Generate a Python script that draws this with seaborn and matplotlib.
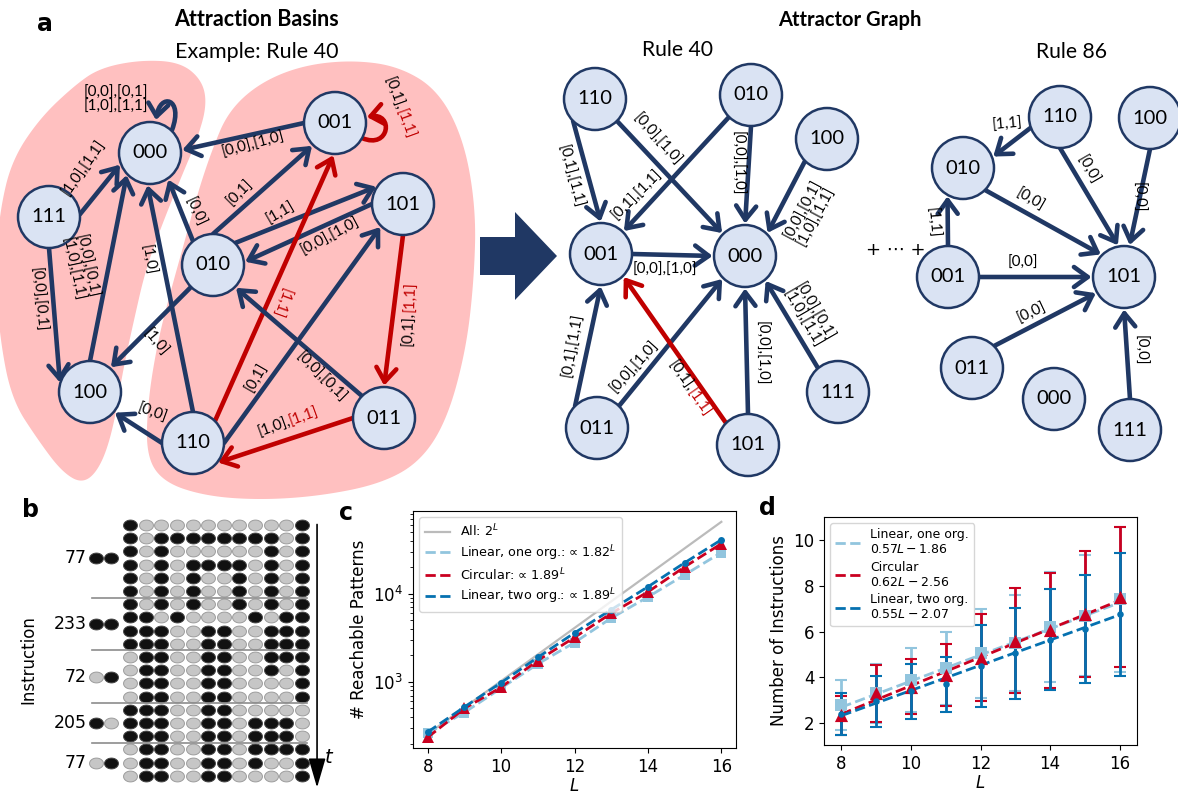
import numpy as np
import matplotlib
matplotlib.use("Agg")
import matplotlib.pyplot as plt
import seaborn as sns
from matplotlib.patches import Circle, FancyArrowPatch, Polygon
from matplotlib.path import Path

W, H = 1178, 796

# ---------------- data: panel c (reachable patterns) ----------------
L = [8, 9, 10, 11, 12, 13, 14, 15, 16]
all_patterns = [256, 512, 1024, 2048, 4096, 8192, 16384, 32768, 65536]
reach_lin_one = [260, 450, 850, 1600, 2800, 5300, 9200, 16400, 29400]
reach_circ = [235, 500, 870, 1750, 3200, 6000, 10500, 20200, 37000]
reach_lin_two = [270, 520, 980, 1900, 3600, 6600, 12000, 22500, 41000]
c_labels = ["All: $2^L$", "Linear, one org.: \u221d $1.82^L$",
            "Circular: \u221d $1.89^L$", "Linear, two org.: \u221d $1.89^L$"]

# ---------------- data: panel d (number of instructions) ----------------
mean_lin_one = [2.8, 3.3, 3.9, 4.4, 5.05, 5.5, 6.2, 6.7, 7.4]
std_lin_one = [1.1, 1.3, 1.4, 1.6, 1.95, 2.1, 2.4, 2.65, 3.15]
mean_circ = [2.35, 3.3, 3.6, 4.1, 4.85, 5.6, 6.05, 6.75, 7.5]
std_circ = [0.85, 1.25, 1.2, 1.35, 1.9, 2.3, 2.5, 2.75, 3.05]
mean_lin_two = [2.4, 2.95, 3.4, 3.7, 4.5, 5.05, 5.65, 6.1, 6.75]
std_lin_two = [0.9, 1.1, 1.2, 1.2, 1.8, 2.0, 2.2, 2.35, 2.7]
fit_slope = [0.57, 0.62, 0.55]
fit_icpt = [-1.86, -2.56, -2.07]
d_labels = ["Linear, one org.\n$0.57L-1.86$", "Circular\n$0.62L-2.56$",
            "Linear, two org.\n$0.55L-2.07$"]

# ---------------- data: panel b (cell states per time step) ----------------
b_rows = ["100000000001", "101111111101", "101000000101", "101011110101",
          "101010010101", "101010010101",
          "101010010101", "110100001011", "111001100111", "111001100111",
          "011001100111", "011001100101", "011001100001", "011001100001",
          "111001100000", "111001101110", "111001101110",
          "011001101111", "011001101001", "011001100001"]
b_rules = ["77", "233", "72", "205", "77"]
b_inputs = ["11", "11", "01", "10", "01"]
b_steps = [6, 4, 4, 3, 3]

# ---------------- data: panel a (graphs) ----------------
basin_edges = [  # src, dst, label parts (text, red?)
    ("111", "000", [("[1,0],[1,1]", 0)]),
    ("111", "100", [("[0,0],[0,1]", 0)]),
    ("100", "000", [("[0,0],[0,1]\n[1,0],[1,1]", 0)]),
    ("110", "000", [("[1,0]", 0)]),
    ("010", "000", [("[0,0]", 0)]),
    ("010", "001", [("[0,1]", 0)]),
    ("010", "101", [("[1,1]", 0)]),
    ("101", "010", [("[0,0],[1,0]", 0)]),
    ("001", "000", [("[0,0],[1,0]", 0)]),
    ("010", "100", [("[1,0]", 0)]),
    ("110", "100", [("[0,0]", 0)]),
    ("110", "001", [("[1,1]", 1)]),
    ("110", "101", [("[0,1]", 0)]),
    ("011", "010", [("[0,0],[0,1]", 0)]),
    ("101", "011", [("[0,1],", 0), ("[1,1]", 1)]),
    ("011", "110", [("[1,0],", 0), ("[1,1]", 1)]),
]
basin_loops = [("000", [("[0,0],[0,1]\n[1,0],[1,1]", 0)]),
               ("001", [("[0,1],", 0), ("[1,1]", 1)])]
r40_edges = [
    ("110", "001", [("[0,1],[1,1]", 0)]),
    ("110", "000", [("[0,0],[1,0]", 0)]),
    ("010", "001", [("[0,1],[1,1]", 0)]),
    ("010", "000", [("[0,0],[1,0]", 0)]),
    ("100", "000", [("[0,0],[0,1]\n[1,0],[1,1]", 0)]),
    ("001", "000", [("[0,0],[1,0]", 0)]),
    ("011", "001", [("[0,1],[1,1]", 0)]),
    ("011", "000", [("[0,0],[1,0]", 0)]),
    ("101", "001", [("[0,1],", 0), ("[1,1]", 1)]),
    ("101", "000", [("[0,0],[1,0]", 0)]),
    ("111", "000", [("[0,0],[0,1]\n[1,0],[1,1]", 0)]),
]
r86_edges = [
    ("110", "010", [("[1,1]", 0)]),
    ("110", "101", [("[0,0]", 0)]),
    ("100", "101", [("[0,0]", 0)]),
    ("010", "101", [("[0,0]", 0)]),
    ("001", "010", [("[1,1]", 0)]),
    ("001", "101", [("[0,0]", 0)]),
    ("011", "101", [("[0,0]", 0)]),
    ("111", "101", [("[0,0]", 0)]),
]

# ---------------- layout (pixel positions, not data) ----------------
basin_pos = {"000": (150, 153), "001": (335, 123), "111": (49, 217), "101": (403, 204),
             "010": (213, 265), "100": (90, 392), "110": (193, 443), "011": (384, 418)}
basin_geo = [  # start angle, end angle, label x, y, rotation
    (5, 200, 84, 168, 55), (270, 165, 38, 300, -85), (90, 222, 79, 268, -78),
    (90, 265, 147, 260, -80), (130, 305, 195, 212, -65), (90, 225, 240, 193, 45),
    (45, 145, 281, 213, 30), (180, 5, 330, 236, 28), (180, 5, 253, 145, 15),
    (225, 50, 155, 343, -50), (180, 320, 152, 413, -20), (45, 268, 280, 302, -110),
    (0, 225, 257, 378, 60), (135, 315, 321, 377, -45), (270, 90, 410, 312, 88),
    (180, 320, 290, 422, 20)]
basin_loop_geo = [((172, 130), (184, 98), (160, 92), (156, 120), 116, 100, 0),
                  ((362, 138), (390, 150), (394, 112), (367, 117), 399, 110, -70)]
r40_pos = {"110": (595, 99), "010": (751, 95), "100": (827, 139), "001": (601, 254),
           "000": (745, 256), "011": (597, 428), "101": (748, 445), "111": (838, 392)}
r40_geo = [(225, 90, 570, 177, -75), (315, 135, 657, 140, -48), (225, 45, 637, 195, 45),
           (270, 90, 737, 163, -90), (225, 45, 810, 213, 62), (0, 180, 665, 270, 0),
           (135, 270, 573, 345, 80), (45, 225, 635, 367, 48), (135, 315, 690, 390, -55),
           (90, 270, 761, 353, -90), (130, 310, 808, 315, -60)]
r86_pos = {"110": (1060, 117), "100": (1150, 118), "010": (963, 168), "001": (948, 277),
           "101": (1124, 277), "011": (972, 368), "000": (1054, 399), "111": (1130, 430)}
r86_geo = [(200, 20, 1007, 125, 5), (270, 100, 1088, 170, -60), (270, 80, 1138, 197, -90),
           (315, 135, 1030, 200, -30), (90, 240, 932, 223, -85), (0, 180, 1023, 263, 0),
           (45, 210, 1032, 313, 25), (90, 270, 1140, 350, -90)]

left_blob = [(75, 85), (100, 68), (140, 60), (180, 62), (202, 80), (207, 105), (197, 140),
             (180, 180), (160, 230), (145, 272), (134, 320), (123, 370), (113, 430),
             (100, 468), (83, 484), (62, 472), (38, 440), (12, 400), (0, 340), (-5, 270),
             (0, 210), (12, 160), (40, 118)]
right_blob = [(212, 150), (228, 112), (258, 84), (300, 66), (350, 60), (398, 66), (438, 90),
              (464, 140), (476, 210), (474, 280), (466, 350), (447, 420), (420, 462),
              (380, 484), (320, 496), (260, 500), (205, 496), (163, 482), (146, 455),
              (148, 400), (158, 340), (171, 290), (185, 240), (198, 192)]

NAVY = "#203864"
RED = "#c00000"
NODE_FC = "#dae3f3"
PINK = "#ffc0c0"
GFONT = "Lato"
R = 31
C_LB, C_RED, C_DB = "#92c5de", "#ca0020", "#0571b0"

fig = plt.figure(figsize=(W / 100, H / 100), dpi=100)

# ---------- overlay axes in pixel coordinates (panel a) ----------
ax0 = fig.add_axes([0, 0, 1, 1])
ax0.set_xlim(0, W)
ax0.set_ylim(H, 0)
ax0.axis("off")


def chaikin(pts, n=4):
    p = np.asarray(pts, float)
    for _ in range(n):
        q = np.roll(p, -1, axis=0)
        p = np.stack([0.75 * p + 0.25 * q, 0.25 * p + 0.75 * q], axis=1).reshape(-1, 2)
    return p


for blob in (left_blob, right_blob):
    ax0.add_patch(Polygon(chaikin(blob), closed=True, fc=PINK, ec="none", zorder=0))


def perim(c, ang):
    a = np.radians(ang)
    return (c[0] + R * np.cos(a), c[1] - R * np.sin(a))


def draw_label(x, y, rot, parts):
    if len(parts) == 1:
        txt, red = parts[0]
        ax0.text(x, y, txt, rotation=rot, rotation_mode="anchor", ha="center", va="center",
                 multialignment="center", fontsize=11, family=GFONT,
                 color=RED if red else "black", linespacing=1.0, zorder=5)
    else:
        for (txt, red), ha in zip(parts, ["right", "left"]):
            ax0.text(x, y, txt, rotation=rot, rotation_mode="anchor", ha=ha, va="center",
                     fontsize=11, family=GFONT, color=RED if red else "black", zorder=5)


def draw_graph(pos, edges, geo):
    for name, (x, y) in pos.items():
        ax0.add_patch(Circle((x, y), R, fc=NODE_FC, ec=NAVY, lw=1.8, zorder=3))
        ax0.text(x, y, name, ha="center", va="center", fontsize=14.5, family=GFONT, zorder=4)
    for (src, dst, parts), (a0, a1, lx, ly, rot) in zip(edges, geo):
        col = RED if parts[-1][1] else NAVY
        ax0.add_patch(FancyArrowPatch(perim(pos[src], a0), perim(pos[dst], a1),
                                      arrowstyle="->,head_length=0.55,head_width=0.4",
                                      mutation_scale=18, lw=3.3, color=col,
                                      shrinkA=0, shrinkB=1, zorder=2))
        draw_label(lx, ly, rot, parts)


draw_graph(basin_pos, basin_edges, basin_geo)
draw_graph(r40_pos, r40_edges, r40_geo)
draw_graph(r86_pos, r86_edges, r86_geo)

for (node, parts), (p0, c1, c2, p1, lx, ly, rot) in zip(basin_loops, basin_loop_geo):
    col = RED if parts[-1][1] else NAVY
    path = Path([p0, c1, c2, p1], [Path.MOVETO, Path.CURVE4, Path.CURVE4, Path.CURVE4])
    ax0.add_patch(FancyArrowPatch(path=path, arrowstyle="->,head_length=0.5,head_width=0.4",
                                  mutation_scale=18, lw=3.3, color=col, zorder=2))
    draw_label(lx, ly, rot, parts)

# big arrow between the panels
ax0.add_patch(Polygon([(480, 237), (515, 237), (515, 212), (557, 256), (515, 300),
                       (515, 275), (480, 275)], closed=True, fc=NAVY, ec="none"))

ax0.text(257, 20, "Attraction Basins", ha="center", va="center", fontsize=15.5,
         fontweight="bold", family=GFONT)
ax0.text(257, 52, "Example: Rule 40", ha="center", va="center", fontsize=15.5, family=GFONT)
ax0.text(850, 20, "Attractor Graph", ha="center", va="center", fontsize=14.5,
         fontweight="bold", family=GFONT)
ax0.text(678, 50, "Rule 40", ha="center", va="center", fontsize=15.2, family=GFONT)
ax0.text(1072, 52, "Rule 86", ha="center", va="center", fontsize=15.2, family=GFONT)
ax0.text(896, 250, "+ \u22ef +", ha="center", va="center", fontsize=13,
         family=["DejaVu Sans"])

for lab, x, y in [("a", 45, 24), ("b", 30, 510), ("c", 346, 513), ("d", 767, 508)]:
    ax0.text(x, y, lab, ha="center", va="center", fontsize=17, fontweight="bold")

# ---------- panel b ----------
px0, px1, py0, py1 = 60, 335, 512, 795
axb = fig.add_axes([px0 / W, 1 - py1 / H, (px1 - px0) / W, (py1 - py0) / H])
cx0, cdx, ry0, rdy = 130, 15.64, 525, 13.2
axb.set_xlim((px0 - cx0) / cdx, (px1 - cx0) / cdx)
axb.set_ylim((py1 - ry0) / rdy, (py0 - ry0) / rdy)
axb.axis("off")

ell = Path(np.column_stack([np.cos(np.linspace(0, 2 * np.pi, 40)),
                            0.78 * np.sin(np.linspace(0, 2 * np.pi, 40))]), closed=True)
states = np.array([[int(ch) for ch in row] for row in b_rows])
rr, cc = np.indices(states.shape)
on = states.ravel() == 1
axb.scatter(cc.ravel()[~on], rr.ravel()[~on], marker=ell, s=100, c="#c6c6c6",
            edgecolors="#9c9c9c", linewidths=0.7)
axb.scatter(cc.ravel()[on], rr.ravel()[on], marker=ell, s=100, c="#111111",
            edgecolors="#444444", linewidths=0.7)

start = 0
for rule, inp, n in zip(b_rules, b_inputs, b_steps):
    mid = start + (n - 1) / 2
    axb.text(-2.75, mid, rule, ha="right", va="center", fontsize=12.5)
    for k, ch in enumerate(inp):
        axb.scatter([-2.2 + k * 0.98], [mid], marker=ell, s=100,
                    c="#111111" if ch == "1" else "#c6c6c6",
                    edgecolors="#444444" if ch == "1" else "#9c9c9c", linewidths=0.7)
    start += n
    if start < len(b_rows):
        axb.plot([-2.43, 11.3], [start - 0.5, start - 0.5], color="#8c8c8c", lw=1.2)

axb.annotate("", xy=(11.96, 20.1), xytext=(11.96, -0.25),
             arrowprops=dict(arrowstyle="-|>,head_length=1.3,head_width=0.38",
                             mutation_scale=14, lw=1.2, color="black"))
axb.text(12.75, 17.6, "$t$", ha="center", va="center", fontsize=14)
fig.text(28 / W, 1 - 660 / H, "Instruction", rotation=90, ha="center", va="center",
         fontsize=12)

# ---------- panel c ----------
axc = fig.add_axes([413 / W, 1 - 748 / H, (736 - 413) / W, (748 - 511) / H])
sns.lineplot(x=L, y=all_patterns, ax=axc, color="#bbbbbb", lw=1.6, label=c_labels[0])
sns.lineplot(x=L, y=reach_lin_one, ax=axc, color=C_LB, linestyle="--", lw=2,
             marker="s", markersize=7, markeredgewidth=0, label=c_labels[1])
sns.lineplot(x=L, y=reach_circ, ax=axc, color=C_RED, linestyle="--", lw=2,
             marker="^", markersize=8, markeredgewidth=0, label=c_labels[2])
sns.lineplot(x=L, y=reach_lin_two, ax=axc, color=C_DB, linestyle="--", lw=2,
             marker="o", markersize=5, markeredgewidth=0, label=c_labels[3])
axc.set_yscale("log")
axc.set_xlim(7.6, 16.4)
axc.set_ylim(178, 87000)
axc.set_xticks([8, 10, 12, 14, 16])
axc.tick_params(labelsize=12)
axc.set_xlabel("$L$", fontsize=12, labelpad=1)
axc.set_ylabel("# Reachable Patterns", fontsize=12)
leg = axc.legend(loc="upper left", fontsize=9.2, handlelength=2.0, labelspacing=0.3)
for h in leg.legend_handles:
    h.set_marker("")

# ---------- panel d ----------
axd = fig.add_axes([824 / W, 1 - 745 / H, (1137 - 824) / W, (745 - 517) / H])
series = [(mean_lin_one, std_lin_one, C_LB, "s", 70),
          (mean_circ, std_circ, C_RED, "^", 90),
          (mean_lin_two, std_lin_two, C_DB, "o", 22)]
for mean, std, col, mk, sz in series:
    axd.errorbar(L, mean, yerr=std, fmt="none", ecolor=col, elinewidth=2, capsize=4,
                 capthick=1.5, zorder=2)
for (mean, std, col, mk, sz), a, b, lab in zip(series, fit_slope, fit_icpt, d_labels):
    fit = [a * x + b for x in L]
    sns.lineplot(x=L, y=fit, ax=axd, color=col, linestyle="--", lw=2, label=lab, zorder=3)
    sns.scatterplot(x=L, y=mean, ax=axd, color=col, marker=mk, s=sz, linewidth=0, zorder=4)
axd.set_xlim(7.5, 16.5)
axd.set_ylim(1.05, 11.0)
axd.set_xticks([8, 10, 12, 14, 16])
axd.set_yticks([2, 4, 6, 8, 10])
axd.tick_params(labelsize=12)
axd.set_xlabel("$L$", fontsize=12, labelpad=1)
axd.set_ylabel("Number of Instructions", fontsize=12)
axd.legend(loc="upper left", fontsize=9, handlelength=2.0, labelspacing=0.35)

fig.savefig("out.png", dpi=100)
